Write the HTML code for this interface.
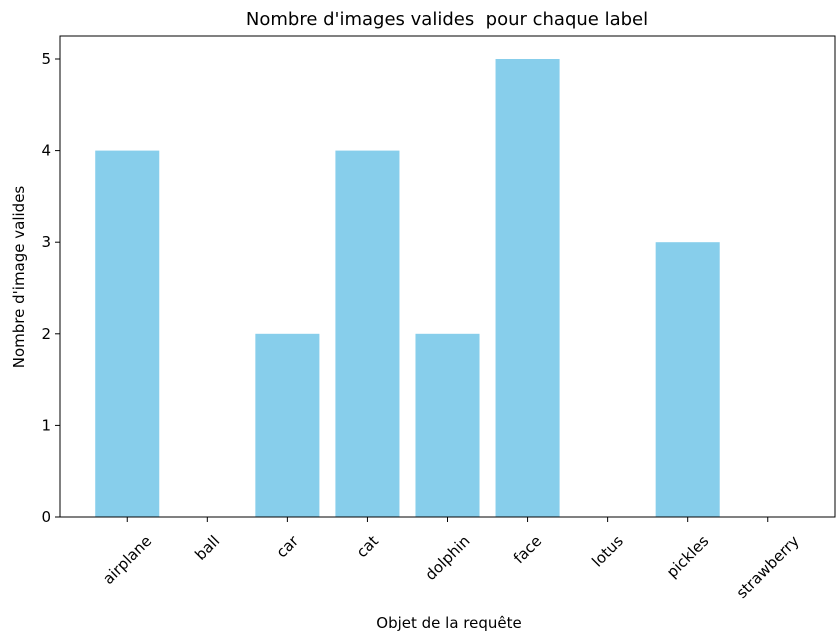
<!DOCTYPE html>
<html><head><meta charset="utf-8"><style>body{margin:0;background:#fff}svg{display:block;font-family:"DejaVu Sans","Liberation Sans",sans-serif}</style></head>
<body>
<svg id="chart" width="838" height="632" viewBox="0 0 838 632">
<text x="447" y="25" font-size="18" text-anchor="middle" fill="#000" style="white-space:pre">Nombre d'images valides  pour chaque label</text>
<g id="bars"></g>
<g id="yticks"></g>
<g id="xticks"></g>
<rect x="60" y="36" width="775" height="481" fill="none" stroke="#000" stroke-width="1"/>
<text x="449" y="628" font-size="15" text-anchor="middle">Objet de la requête</text>
<text transform="translate(24,277) rotate(-90)" font-size="15" text-anchor="middle">Nombre d'image valides</text>
</svg>
<script>
const categories=["airplane","ball","car","cat","dolphin","face","lotus","pickles","strawberry"];
const values=[4,0,2,4,2,5,0,3,0];
const yTicks=[0,1,2,3,4,5];
const NS="http://www.w3.org/2000/svg";
const L=60,R=835,T=36,B=517;
const xMin=-0.84,xMax=8.84;
function xs(i){return L+(i-xMin)/(xMax-xMin)*(R-L);}
function ys(v){return B-v*(B-59)/5;}
const bw=0.8*(R-L)/(xMax-xMin);
function mk(t,a,p){const e=document.createElementNS(NS,t);for(const k in a)e.setAttribute(k,a[k]);p.appendChild(e);return e;}
const gb=document.getElementById('bars'),gy=document.getElementById('yticks'),gx=document.getElementById('xticks');
categories.forEach((c,i)=>{
 const r=mk('rect',{x:xs(i)-bw/2,y:ys(values[i]),width:bw,height:B-ys(values[i]),fill:'#87ceeb'},gb);
 
 
 const tk=mk('line',{x1:xs(i),x2:xs(i),y1:B,y2:B+5,stroke:'#000'},gx);
 
 
 const t=mk('text',{x:xs(i),y:0,'font-size':15,'text-anchor':'middle'},gx);
 t.textContent=c;
 
 
 const w=t.getComputedTextLength();
 const cy=B+16+(w+15)*0.707/2;
 t.setAttribute('y',cy+5);
 t.setAttribute('transform','rotate(-45,'+xs(i)+','+cy+')');
});
yTicks.forEach(v=>{
 const tk=mk('line',{x1:L-5,x2:L,y1:ys(v),y2:ys(v),stroke:'#000'},gy);
 
 
 const t=mk('text',{x:L-9,y:ys(v)+5,'font-size':15,'text-anchor':'end'},gy);
 t.textContent=v;
 
 
});
</script>
</body></html>
